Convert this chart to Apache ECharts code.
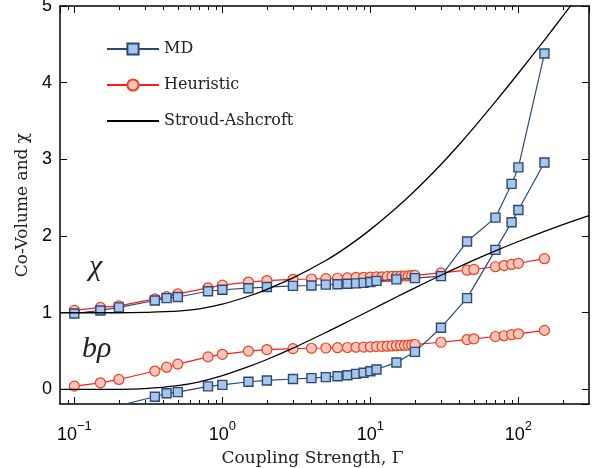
<!DOCTYPE html>
<html>
<head>
<meta charset="utf-8">
<script src="https://cdn.jsdelivr.net/npm/echarts@6/dist/echarts.min.js"></script>
<style>
  html, body { margin: 0; padding: 0; background: #fff; }
  #main { width: 596px; height: 468px; }
</style>
</head>
<body>
<div id="main"></div>
<script>
// coupling strength values (Gamma)
var gammaMD = [0.1, 0.15, 0.2, 0.35, 0.42, 0.5, 0.8, 1, 1.5, 2, 3, 4, 5, 6, 7, 8, 9, 10, 11, 15, 20, 30, 45, 70, 90, 100, 150];
var mdChi   = [0.99, 1.03, 1.07, 1.16, 1.19, 1.205, 1.28, 1.30, 1.32, 1.335, 1.35, 1.355, 1.367, 1.372, 1.378, 1.383, 1.39, 1.40, 1.415, 1.435, 1.452, 1.478, 1.93, 2.24, 2.68, 2.895, 4.38];
var gammaMDrho = [0.2, 0.35, 0.42, 0.5, 0.8, 1, 1.5, 2, 3, 4, 5, 6, 7, 8, 9, 10, 11, 15, 20, 30, 45, 70, 90, 100, 150];
var mdRho   = [-0.21, -0.096, -0.05, -0.035, 0.04, 0.06, 0.10, 0.117, 0.136, 0.148, 0.16, 0.172, 0.184, 0.203, 0.218, 0.238, 0.26, 0.352, 0.49, 0.805, 1.19, 1.82, 2.18, 2.34, 2.96];

var gammaHeur = [0.1, 0.15, 0.2, 0.35, 0.42, 0.5, 0.8, 1, 1.5, 2, 3, 4, 5, 6, 7, 8, 9, 10, 11, 12, 13, 14, 15, 16, 17, 18, 19, 20, 30, 45, 50, 70, 80, 90, 100, 150];
var heurChi = [1.03, 1.07, 1.09, 1.18, 1.21, 1.245, 1.325, 1.36, 1.40, 1.42, 1.436, 1.44, 1.445, 1.45, 1.455, 1.46, 1.462, 1.465, 1.467, 1.469, 1.471, 1.473, 1.475, 1.477, 1.479, 1.481, 1.484, 1.487, 1.52, 1.555, 1.565, 1.60, 1.615, 1.63, 1.645, 1.705];
var heurRho = [0.043, 0.086, 0.13, 0.24, 0.29, 0.33, 0.425, 0.458, 0.50, 0.52, 0.532, 0.537, 0.54, 0.544, 0.547, 0.55, 0.552, 0.555, 0.558, 0.561, 0.564, 0.567, 0.57, 0.573, 0.576, 0.579, 0.582, 0.586, 0.615, 0.65, 0.66, 0.69, 0.70, 0.715, 0.725, 0.77];

var gammaSA = [0.08, 0.1, 0.2, 0.3, 0.5, 0.7, 1, 1.5, 2, 3, 5, 7, 10, 15, 20, 30, 40, 50, 70, 100, 150, 200, 300];
var saChi   = [1.0, 1.0, 1.0, 1.005, 1.021, 1.051, 1.111, 1.215, 1.306, 1.454, 1.681, 1.862, 2.084, 2.369, 2.591, 2.934, 3.197, 3.413, 3.752, 4.123, 4.556, 4.871, 5.32];
var saRho   = [0.0, 0.0, 0.0, 0.01, 0.049, 0.099, 0.179, 0.296, 0.39, 0.538, 0.742, 0.882, 1.033, 1.205, 1.325, 1.489, 1.602, 1.687, 1.808, 1.929, 2.06, 2.149, 2.267];

var xMinorTicks = [0.09, 0.2, 0.3, 0.4, 0.5, 0.6, 0.7, 0.8, 0.9, 2, 3, 4, 5, 6, 7, 8, 9, 20, 30, 40, 50, 60, 70, 80, 90, 200];

function pairs(xs, ys) {
  return xs.map(function (x, i) { return [x, ys[i]]; });
}

var mdColor = '#2d4874';
var mdFill = '#a8c6ec';
var heurLine = '#ff1a1a';
var heurEdge = '#e4441c';
var heurFill = '#fbc4be';

function mdSeries(data) {
  return {
    name: 'MD', type: 'line', data: data, symbol: 'rect', symbolSize: 9,
    lineStyle: { color: mdColor, width: 1.2 },
    itemStyle: { color: mdFill, borderColor: mdColor, borderWidth: 1.4 },
    z: 3
  };
}
function heurSeries(data) {
  return {
    name: 'Heuristic', type: 'line', data: data, symbol: 'circle', symbolSize: 10,
    lineStyle: { color: heurLine, width: 1.2 },
    itemStyle: { color: heurFill, borderColor: heurEdge, borderWidth: 1.2 },
    z: 2
  };
}
function saSeries(data) {
  return {
    name: 'Stroud-Ashcroft', type: 'line', data: data, symbol: 'none', smooth: 0.3,
    lineStyle: { color: '#000', width: 1.3 },
    itemStyle: { color: '#000' },
    z: 4
  };
}

function frameAxis(extra) {
  var a = {
    axisLine: { onZero: false, lineStyle: { color: '#000', width: 1.5 } },
    axisTick: { inside: true, length: 7, lineStyle: { color: '#000' } },
    splitLine: { show: false }
  };
  for (var k in extra) a[k] = extra[k];
  return a;
}

var chart = echarts.init(document.getElementById('main'));

var option = {
  animation: false,
  grid: { left: 60, right: 7, top: 6, bottom: 64, outerBoundsMode: 'none', containLabel: false },
  legend: {
    data: ['MD', 'Heuristic', { name: 'Stroud-Ashcroft', itemStyle: { opacity: 0 } }],
    orient: 'vertical', left: 101, top: 36,
    itemWidth: 52, itemHeight: 14, itemGap: 20,
    selectedMode: false,
    textStyle: { fontFamily: 'DejaVu Serif', fontSize: 16, color: '#222' }
  },
  xAxis: [frameAxis({
    type: 'log', logBase: 10, min: 0.08, max: 300, position: 'bottom',
    axisLabel: {
      showMinLabel: false, showMaxLabel: false, margin: 16, color: '#000',
      formatter: function (v) {
        var e = Math.round(Math.log10(v));
        return '{b|10}{sup|' + (e < 0 ? '\u2212' + (-e) : e) + '}';
      },
      rich: {
        b: { fontFamily: 'Liberation Sans', fontSize: 18, color: '#000', lineHeight: 24, verticalAlign: 'bottom' },
        sup: { fontFamily: 'Liberation Sans', fontSize: 13, color: '#000', lineHeight: 14, verticalAlign: 'top' }
      }
    },
    name: 'Coupling Strength, \u0393', nameLocation: 'middle', nameGap: 46,
    nameTextStyle: { fontFamily: 'DejaVu Serif', fontSize: 17, color: '#222', padding: [0, 24, 0, 0] }
  }), frameAxis({
    type: 'log', logBase: 10, min: 0.08, max: 300, position: 'top',
    axisLabel: { show: false }
  })],
  yAxis: [frameAxis({
    type: 'value', min: -0.19, max: 5, position: 'left',
    axisLabel: { showMinLabel: false, margin: 8, color: '#000', fontFamily: 'Liberation Sans', fontSize: 18 },
    name: 'Co-Volume and \u03c7', nameLocation: 'middle', nameGap: 27,
    nameTextStyle: { fontFamily: 'DejaVu Serif', fontSize: 17, color: '#222' }
  }), frameAxis({
    type: 'value', min: -0.19, max: 5, position: 'right',
    axisLabel: { show: false }
  })],
  graphic: [
    { type: 'text', left: 89, top: 252, style: { text: '\u03c7', font: 'italic 30px "Liberation Serif"', fill: '#222' } },
    { type: 'text', left: 82, top: 334, style: { text: 'b\u03c1', font: 'italic 30px "Liberation Serif"', fill: '#222' } }
  ],
  series: [
    heurSeries(pairs(gammaHeur, heurChi)),
    heurSeries(pairs(gammaHeur, heurRho)),
    mdSeries(pairs(gammaMD, mdChi)),
    mdSeries(pairs(gammaMDrho, mdRho)),
    saSeries(pairs(gammaSA, saChi)),
    saSeries(pairs(gammaSA, saRho)),
    {
      type: 'custom', silent: true, z: 10,
      data: xMinorTicks.map(function (v) { return [v, 0]; }),
      renderItem: function (params, api) {
        var x = Math.round(api.coord([api.value(0), 0])[0]) + 0.5;
        var cs = params.coordSys;
        var b = cs.y + cs.height;
        return {
          type: 'group',
          children: [
            { type: 'line', shape: { x1: x, y1: b, x2: x, y2: b - 4 }, style: { stroke: '#000', lineWidth: 1 } },
            { type: 'line', shape: { x1: x, y1: cs.y, x2: x, y2: cs.y + 4 }, style: { stroke: '#000', lineWidth: 1 } }
          ]
        };
      }
    }
  ]
};

chart.setOption(option);
</script>
</body>
</html>
